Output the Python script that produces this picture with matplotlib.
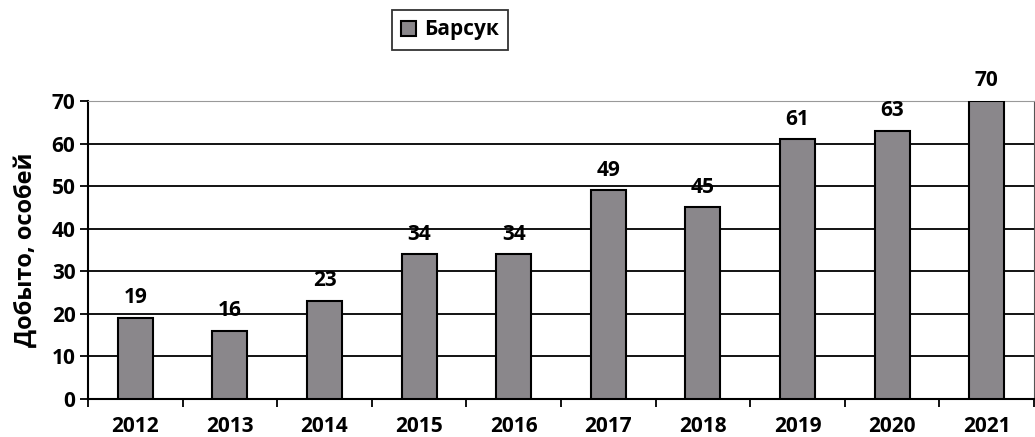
import numpy as np
import matplotlib.pyplot as plt

years = ["2012", "2013", "2014", "2015", "2016", "2017", "2018", "2019", "2020", "2021"]
counts = [19, 16, 23, 34, 34, 49, 45, 61, 63, 70]
series_name = "Барсук"

plt.rcParams['font.family'] = ['Open Sans', 'DejaVu Sans']

fig = plt.figure(figsize=(10.35, 4.37), dpi=100)
ax = fig.add_axes([88 / 1035, (437 - 399) / 437, (1034 - 88) / 1035, (399 - 101) / 437])

x = np.arange(len(years))
bars = ax.bar(x, counts, width=0.37, color="#8a878b", edgecolor="black", linewidth=1.5,
              label=series_name, zorder=3)

ax.set_xlim(-0.5, len(years) - 0.5)
ax.set_ylim(0, 70)
ax.set_yticks(range(0, 71, 10))
ax.yaxis.grid(True, color="black", linewidth=1.3, zorder=0)

ax.set_xticks(x)
ax.set_xticklabels(years, fontsize=15, fontweight="bold")
ax.set_xticks(np.arange(-0.5, len(years)), minor=True)
ax.tick_params(axis="x", which="major", length=0, pad=12)
ax.tick_params(axis="x", which="minor", length=6, width=1.3, direction="out")
ax.tick_params(axis="y", length=6, width=1.3, labelsize=15, pad=3)
for lbl in ax.get_yticklabels():
    lbl.set_fontweight("bold")

ax.spines["left"].set_linewidth(1.5)
ax.spines["bottom"].set_linewidth(1.5)
ax.spines["top"].set_color("#999999")
ax.spines["right"].set_color("#555555")

ax.set_ylabel("Добыто, особей", fontsize=17, fontweight="bold", labelpad=10)

for xi, v in zip(x, counts):
    ax.annotate(str(v), (xi, v), xytext=(0, 7), textcoords="offset points",
                ha="center", va="bottom", fontsize=15, fontweight="bold")

leg = fig.legend(handles=[bars], labels=[series_name], loc="center",
                 bbox_to_anchor=(450 / 1035, 1 - 30 / 437), frameon=True,
                 prop={"size": 15, "weight": "bold"}, handlelength=0.7, handleheight=0.7,
                 handletextpad=0.4, borderpad=0.45, borderaxespad=0, fancybox=False)
leg.get_frame().set_edgecolor("black")
leg.get_frame().set_linewidth(1.3)

fig.savefig("out.png", dpi=100)
